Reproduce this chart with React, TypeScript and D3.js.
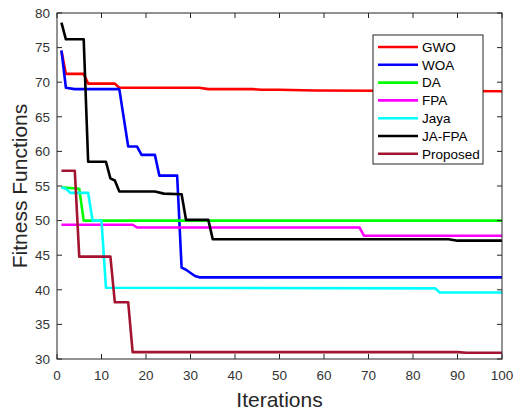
import React from "react";
import * as d3 from "d3";

type Pt = [number, number];

const seriesNames = ["GWO", "WOA", "DA", "FPA", "Jaya", "JA-FPA", "Proposed"];
const seriesColors = ["#ff0000", "#0000ff", "#00ff00", "#ff00ff", "#00ffff", "#000000", "#a2142f"];

const gwo: Pt[] = [[1, 74.5], [2, 71.2], [6, 71.2], [7, 69.8], [13, 69.8], [14, 69.2], [32, 69.2], [34, 69.0], [44, 69.0], [46, 68.9], [50, 68.9], [58, 68.8], [100, 68.7]];
const woa: Pt[] = [[1, 74.6], [2, 69.2], [4, 69.0], [14, 69.0], [16, 60.7], [18, 60.7], [19, 59.5], [22, 59.5], [23, 56.5], [27, 56.5], [28, 43.2], [29, 42.9], [31, 42.0], [32, 41.8], [100, 41.8]];
const da: Pt[] = [[1, 54.8], [5, 54.6], [6, 50.0], [100, 50.0]];
const fpa: Pt[] = [[1, 49.4], [17, 49.4], [18, 49.0], [68, 49.0], [69, 47.8], [100, 47.8]];
const jaya: Pt[] = [[1, 54.8], [2, 54.6], [3, 54.0], [7, 54.0], [8, 50.0], [10, 50.0], [11, 40.3], [85, 40.2], [86, 39.6], [100, 39.6]];
const jafpa: Pt[] = [[1, 78.6], [2, 76.2], [6, 76.2], [7, 58.5], [11, 58.5], [12, 56.1], [13, 55.8], [14, 54.2], [22, 54.2], [24, 53.9], [28, 53.8], [29, 50.1], [34, 50.1], [35, 47.3], [88, 47.3], [90, 47.1], [100, 47.1]];
const proposed: Pt[] = [[1, 57.2], [4, 57.2], [5, 44.8], [12, 44.8], [13, 38.2], [16, 38.2], [17, 31.0], [90, 31.0], [92, 30.9], [100, 30.9]];

const seriesData: Pt[][] = [gwo, woa, da, fpa, jaya, jafpa, proposed];

const xTicks = [0, 10, 20, 30, 40, 50, 60, 70, 80, 90, 100];
const yTicks = [30, 35, 40, 45, 50, 55, 60, 65, 70, 75, 80];

const W = 518, H = 412;
const L = 57, R = 502, T = 13, B = 359;
const FONT = "'Liberation Sans', Arial, Helvetica, sans-serif";

export default function App() {
  const x = d3.scaleLinear().domain([0, 100]).range([L, R]);
  const y = d3.scaleLinear().domain([30, 80]).range([B, T]);
  const line = d3.line<Pt>().x(d => x(d[0])).y(d => y(d[1]));
  const tl = 5;
  const axisColor = "#262626";
  const legX = 373, legY = 35, legW = 110, legH = 129;
  const rowH = 17.8;

  return (
    <svg width={W} height={H} style={{ position: "absolute", left: 0, top: 0, background: "#fff" }} fontFamily={FONT}>
      <rect x={0} y={0} width={W} height={H} fill="#fff" />
      <clipPath id="plotclip">
        <rect x={L} y={T} width={R - L} height={B - T} />
      </clipPath>
      <g clipPath="url(#plotclip)">
        {seriesData.map((d, i) => (
          <path key={i} d={line(d) || ""} fill="none" stroke={seriesColors[i]} strokeWidth={2.6} strokeLinejoin="round" />
        ))}
      </g>
      {/* frame */}
      <rect x={L} y={T} width={R - L} height={B - T} fill="none" stroke={axisColor} strokeWidth={1} />
      {/* ticks */}
      {xTicks.map(t => (
        <g key={"x" + t}>
          <line x1={x(t)} x2={x(t)} y1={B} y2={B - tl} stroke={axisColor} />
          <line x1={x(t)} x2={x(t)} y1={T} y2={T + tl} stroke={axisColor} />
          <text x={x(t)} y={380} textAnchor="middle" fontSize={13.5} fill="#333">{t}</text>
        </g>
      ))}
      {yTicks.map(t => (
        <g key={"y" + t}>
          <line x1={L} x2={L + tl} y1={y(t)} y2={y(t)} stroke={axisColor} />
          <line x1={R} x2={R - tl} y1={y(t)} y2={y(t)} stroke={axisColor} />
          <text x={50} y={y(t) + 4.8} textAnchor="end" fontSize={13.5} fill="#333">{t}</text>
        </g>
      ))}
      <text x={(L + R) / 2} y={407} textAnchor="middle" fontSize={21} fill="#262626">Iterations</text>
      <text transform={`translate(27,${(T + B) / 2}) rotate(-90)`} textAnchor="middle" fontSize={21} fill="#262626">Fitness Functions</text>
      {/* legend */}
      <rect x={legX} y={legY} width={legW} height={legH} fill="#fff" stroke="#262626" strokeWidth={1} />
      {seriesNames.map((n, i) => {
        const cy = legY + 12 + i * rowH;
        return (
          <g key={n}>
            <line x1={legX + 5} x2={legX + 45} y1={cy} y2={cy} stroke={seriesColors[i]} strokeWidth={2.6} />
            <text x={legX + 49} y={cy + 4.8} fontSize={13.5} fill="#000">{n}</text>
          </g>
        );
      })}
    </svg>
  );
}
